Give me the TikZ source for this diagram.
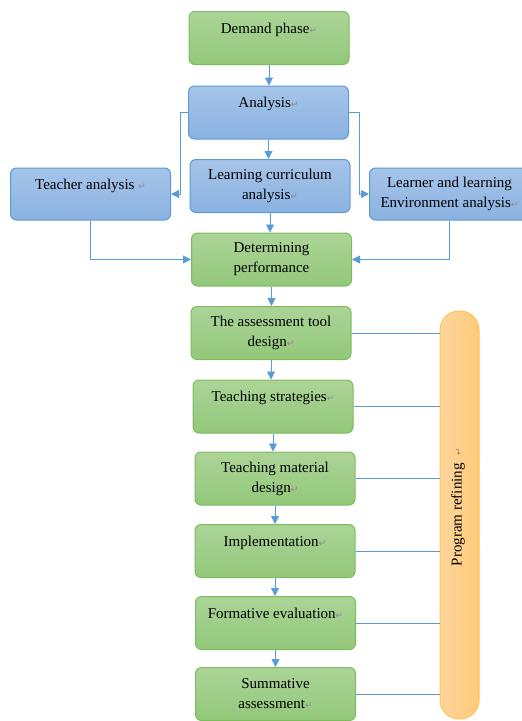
\documentclass[tikz,border=0pt]{standalone}
\usepackage{fontspec}
\setmainfont{Liberation Serif}
\newfontfamily\retfont{DejaVu Sans}
\usetikzlibrary{arrows.meta}

\definecolor{grntop}{RGB}{172,212,152}
\definecolor{grnbot}{RGB}{146,200,122}
\definecolor{grnline}{RGB}{125,188,92}
\definecolor{blutop}{RGB}{166,196,233}
\definecolor{blubot}{RGB}{138,178,225}
\definecolor{bluline}{RGB}{91,155,213}
\definecolor{orgleft}{RGB}{253,212,156}
\definecolor{orgright}{RGB}{255,203,120}
\definecolor{orgline}{RGB}{255,196,80}

\newcommand{\ret}{{\retfont\color{black!45}\fontsize{9}{9}\selectfont ↵}}

\tikzset{
    stage/.style={line width=1pt, rounded corners=6pt, minimum width=160pt,
        minimum height=53pt, inner sep=0pt, align=center,
        font=\fontsize{15}{20}\selectfont},
    greenbox/.style={stage, draw=grnline, top color=grntop, bottom color=grnbot},
    bluebox/.style={stage, draw=bluline, top color=blutop, bottom color=blubot},
    link/.style={bluline, line width=0.9pt}
}

\begin{document}
\begin{tikzpicture}[x=1pt, y=-1pt, >={Triangle[length=8pt,width=8pt]}]
    \useasboundingbox (0,0) rectangle (522,721);
    \clip (0,0) rectangle (522,721);

    % Fase de analise
    \node[greenbox] (demand) at (269,38) {Demand phase\ret\\\mbox{}};
    \node[bluebox] (analysis) at (268.5,112.5) {Analysis\ret\\\mbox{}};
    \node[bluebox, minimum height=52pt] (teacher) at (90.5,194) {Teacher analysis \ret\\\mbox{}};
    \node[bluebox] (curriculum) at (270,186) {Learning curriculum\\analysis\ret};
    \node[bluebox, minimum height=52pt] (learner) at (449.5,194) {Learner and learning\\Environment analysis\ret};
    \node[greenbox] (perform) at (271.5,259.5) {Determining\\performance};

    % Fase de projeto
    \node[greenbox] (tool) at (271,333) {The assessment tool\\design\ret};
    \node[greenbox] (strategy) at (273,406.5) {Teaching strategies\ret\\\mbox{}};
    \node[greenbox] (material) at (275,478.5) {Teaching material\\design\ret};
    \node[greenbox] (implement) at (275,551) {Implementation\ret\\\mbox{}};
    \node[greenbox] (formative) at (275.5,623) {Formative evaluation\ret\\\mbox{}};
    \node[greenbox] (summative) at (275.5,694) {Summative\\assessment\ret};

    % Barra lateral
    \node[draw=orgline, line width=1pt, rounded corners=19pt, left color=orgleft,
        right color=orgright, minimum width=39pt, minimum height=408pt, inner sep=0pt]
        (refine) at (459.5,515) {};
    \node[rotate=90, font=\fontsize{15}{20}\selectfont] (refinetext) at (458,507)
        {Program refining\hspace{8pt}\ret};

    % Setas verticais
    \draw[link,->] (demand.south) -- (demand.south |- analysis.north);
    \draw[link,->] (analysis.south) -- (analysis.south |- curriculum.north);
    \draw[link,->] (curriculum.south) -- (curriculum.south |- perform.north);
    \draw[link,->] (perform.south) -- (perform.south |- tool.north);
    \draw[link,->] (tool.south) -- (tool.south |- strategy.north);
    \draw[link,->] (strategy.south) -- (strategy.south |- material.north);
    \draw[link,->] (material.south) -- (material.south |- implement.north);
    \draw[link,->] (implement.south) -- (implement.south |- formative.north);
    \draw[link,->] (formative.south) -- (formative.south |- summative.north);

    % Ramos laterais
    \draw[link,->] (analysis.west) -- ++(-8,0) |- (teacher.east);
    \draw[link,->] (analysis.east) -- ++(10,0) |- (learner.west);
    \draw[link,->] (teacher.south) |- (perform.west);
    \draw[link,->] (learner.south) |- (perform.east);

    % Linhas ate a barra
    \foreach \s in {tool,strategy,material,implement,formative,summative}
        \draw[link] (\s.east) -- (\s.east -| refine.west);

\end{tikzpicture}
\end{document}
